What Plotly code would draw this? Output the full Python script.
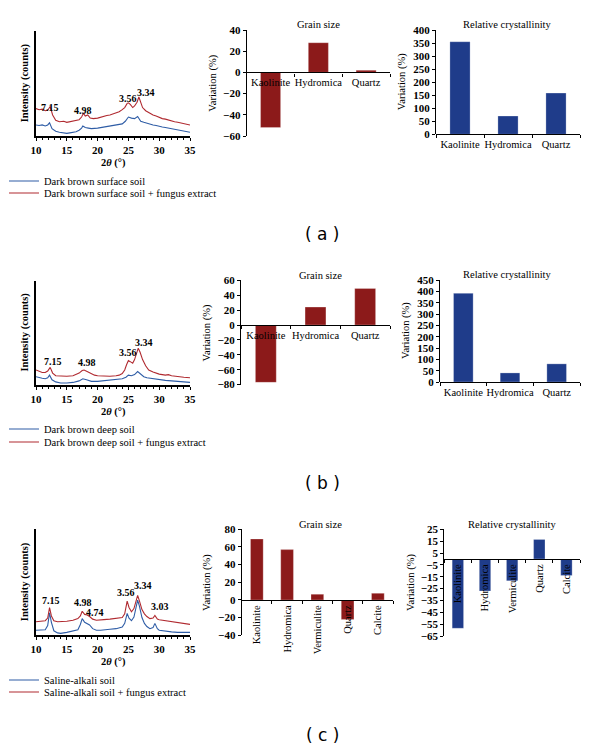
import plotly.graph_objects as go

# ---------------- DATA ----------------
# XRD patterns (2theta in degrees, intensity in arbitrary counts)
xrd_a_x_red = [10, 10.5, 11, 11.5, 11.9, 12.3, 12.7, 13.2, 13.8, 14.5, 15, 15.5, 16, 16.5, 17, 17.4, 17.7, 18.0, 18.4, 18.8,
               19.3, 20, 20.5, 21, 21.5, 22, 22.5, 23, 23.5, 24, 24.4, 24.8, 25.0, 25.3, 25.7, 26.0, 26.4, 26.7, 26.9, 27.3,
               27.8, 28.3, 29, 29.5, 30, 30.5, 31, 31.5, 32, 32.5, 33, 33.5, 34, 34.5, 35]
xrd_a_y_red = [26, 25, 25.5, 24, 24.5, 28, 20, 15, 13.5, 14, 13, 13.5, 14, 14.5, 15.5, 18, 21.5, 19, 20, 17,
               16.5, 17, 18, 18.5, 19.5, 20, 21, 22, 23, 25, 27, 31, 31.5, 30, 27, 28.5, 32, 37, 33, 27,
               24, 22, 20, 19, 17.5, 16.5, 16, 15, 14.5, 13.5, 13, 12.5, 12, 11.5, 10.5]
xrd_a_x_blue = [10, 10.5, 11, 11.5, 11.9, 12.2, 12.6, 13.2, 13.8, 14.5, 15, 15.5, 16, 16.5, 17, 17.4, 17.6, 18.0, 18.5, 19,
                20, 20.5, 21, 21.5, 22, 22.5, 23, 23.5, 24, 24.5, 25.0, 25.5, 26.0, 26.5, 27.0, 27.5, 28, 28.5, 29, 29.5,
                30, 30.5, 31, 31.5, 32, 32.5, 33, 33.5, 34, 34.5, 35]
xrd_a_y_blue = [10.5, 10, 10.5, 9.5, 10.5, 12.5, 7, 4.5, 3.5, 3, 2.5, 3, 3.5, 4, 5.5, 7.5, 9.5, 8, 7.5, 7,
                7.5, 8, 8.5, 8.5, 9, 9.5, 10, 10.5, 11.5, 14, 18, 17, 16.5, 18.5, 14, 13, 12, 11.5, 10.5, 10,
                9, 8.5, 8, 7.5, 7, 6, 5.5, 5, 4.5, 4, 3.5]

xrd_b_x_red = [10, 10.5, 11, 11.5, 11.9, 12.3, 12.7, 13.2, 14, 15, 16, 16.5, 17, 17.5, 17.8, 18.3, 18.8, 19.5, 20, 21,
               22, 23, 23.5, 24, 24.4, 24.7, 25.0, 25.3, 25.7, 26.0, 26.3, 26.6, 26.9, 27.3, 27.8, 28.3, 29, 30, 31, 31.5,
               32, 33, 34, 35]
xrd_b_y_red = [14, 12.5, 11.5, 11.5, 13, 16.5, 11, 8.5, 8, 8, 8.5, 9.5, 11, 13.5, 14, 12.5, 11, 9, 8.5, 8,
               8, 8.5, 9, 10.5, 14, 19, 23, 22, 20.5, 24, 30, 35, 31, 24, 18, 14, 12, 10, 9, 9.5,
               8.5, 7.5, 7, 6.5]
xrd_b_x_blue = [10, 10.5, 11, 11.5, 11.9, 12.2, 12.6, 13.2, 14, 15, 16, 17, 17.6, 18.2, 19, 20, 21, 22, 23, 24,
                24.6, 25, 25.5, 26, 26.5, 27, 27.5, 28, 29, 30, 31, 32, 33, 34, 35]
xrd_b_y_blue = [7.5, 6.5, 6, 5.5, 6.5, 9, 4.5, 2.5, 1.5, 1.5, 2, 3.5, 5.5, 4.5, 3, 3, 3.5, 4, 4.5, 5.5,
                7, 9, 8.5, 9.5, 12.5, 9.5, 7.5, 6.5, 5.5, 4.5, 4, 3.5, 3, 2.5, 2]

xrd_c_x = [10, 10.5, 11, 11.5, 11.9, 12.2, 12.5, 12.9, 13.5, 14, 15, 16, 16.8, 17.2, 17.5, 17.9, 18.3, 18.7, 19.2, 19.8,
           20.5, 21, 22, 23, 23.5, 24, 24.4, 24.8, 25.1, 25.5, 25.9, 26.2, 26.5, 26.8, 27.2, 27.6, 28, 28.5, 29, 29.3,
           29.7, 30, 30.5, 31, 31.5, 32, 33, 34, 35]
xrd_c_y_red = [12.5, 13, 13, 13.5, 16, 26, 18, 13.5, 12.5, 12.5, 13, 14, 15.5, 18, 22.5, 19.5, 19, 17.5, 15, 14,
               14, 14.5, 15, 15.5, 16, 16.5, 20, 32, 26, 22, 25, 31, 37.5, 32, 24, 20, 17.5, 15.5, 16, 18.5,
               15, 14.5, 14, 14, 13.5, 12.5, 11.5, 10.5, 10]
xrd_c_y_blue = [4.5, 4.5, 4.5, 5, 9, 21, 12, 4, 2, 1.5, 2.5, 3.5, 5, 10, 15.5, 12, 11, 9.5, 6, 4.5,
                4.5, 5, 5.5, 6, 6.5, 7.5, 11, 20.5, 16, 13.5, 17, 25, 33, 27, 16.5, 11, 8, 6, 7, 11,
                6, 4.5, 4, 3.5, 3.5, 3, 2.5, 2.5, 2.5]

# Peak labels (d-spacings, Å)
peaks_a_x = [12.3, 17.7, 24.9, 27.8]
peaks_a_y = [27.5, 24, 35.5, 41]
peaks_a_text = ["7.15", "4.98", "3.56", "3.34"]
peaks_b_x = [12.8, 18.3, 25.0, 27.6]
peaks_b_y = [22, 21.5, 31, 40]
peaks_b_text = ["7.15", "4.98", "3.56", "3.34"]
peaks_c_x = [12.5, 17.7, 19.5, 24.6, 27.4, 30.1]
peaks_c_y = [33, 31, 21.5, 40.5, 47, 26.7]
peaks_c_text = ["7.15", "4.98", "4.74", "3.56", "3.34", "3.03"]

# Series names
names_a = ["Dark brown surface soil", "Dark brown surface soil + fungus extract"]
names_b = ["Dark brown deep soil", "Dark brown deep soil + fungus extract"]
names_c = ["Saline-alkali soil", "Saline-alkali soil + fungus extract"]

# Bar charts (variation, %)
cats_ab = ["Kaolinite", "Hydromica", "Quartz"]
cats_c = ["Kaolinite", "Hydromica", "Vermiculite", "Quartz", "Calcite"]
grain_a = [-52, 28, 2]
cryst_a = [355, 70, 158]
grain_b = [-77, 24, 49]
cryst_b = [391, 40, 80]
grain_c = [69, 57, 6.5, -22, 7.5]
cryst_c = [-58.5, -27, -18.5, 16.5, -14]

# ---------------- STYLE ----------------
W, H = 600, 749
SERIF = "Liberation Serif"
RED_LINE = "#B02A30"
BLUE_LINE = "#2F5DA6"
RED_BAR = "#8C1A1A"
BLUE_BAR = "#1F3C8A"


def fx(p):
    return p / W


def fy(p):
    return 1 - p / H


def note(x, y, text, font, angle=0, xref="paper", yref="paper"):
    return dict(x=x, y=y, xref=xref, yref=yref, text=text, showarrow=False, textangle=angle,
                xanchor="center", yanchor="middle", font=font)


fig = go.Figure()
layout = dict(width=W, height=H, margin=dict(l=0, r=0, t=0, b=0, autoexpand=False),
              paper_bgcolor="white", plot_bgcolor="rgba(0,0,0,0)",
              bargap=0.58, showlegend=True, annotations=[])

tickfont = dict(family=SERIF, size=11, color="black", weight="bold")
catfont = dict(family=SERIF, size=10.5, color="black")
boldfont = dict(family=SERIF, size=10.5, color="black", weight="bold")
peakfont = dict(family=SERIF, size=10, color="black", weight="bold")
plainfont = dict(family=SERIF, size=10.5, color="black")

# --- XRD panels ---
xrd_panels = [
    (1, 30.7, 136, xrd_a_x_blue, xrd_a_y_blue, xrd_a_x_red, xrd_a_y_red, peaks_a_x, peaks_a_y, peaks_a_text, names_a, 181, 193, ("legend", "legend2")),
    (4, 280.7, 384.5, xrd_b_x_blue, xrd_b_y_blue, xrd_b_x_red, xrd_b_y_red, peaks_b_x, peaks_b_y, peaks_b_text, names_b, 429, 442, ("legend3", "legend4")),
    (7, 529.3, 635, xrd_c_x, xrd_c_y_blue, xrd_c_x, xrd_c_y_red, peaks_c_x, peaks_c_y, peaks_c_text, names_c, 680, 692, ("legend5", "legend6")),
]
for (n, top, bot, xb, yb, xr, yr, px, py, pt, names, lg1, lg2, legs) in xrd_panels:
    xa = "x" if n == 1 else f"x{n}"
    ya = "y" if n == 1 else f"y{n}"
    fig.add_trace(go.Scatter(x=xb, y=yb, mode="lines", line=dict(color=BLUE_LINE, width=1.1),
                             name=names[0], xaxis=xa, yaxis=ya, legend=legs[0]))
    fig.add_trace(go.Scatter(x=xr, y=yr, mode="lines", line=dict(color=RED_LINE, width=1.1),
                             name=names[1], xaxis=xa, yaxis=ya, legend=legs[1]))
    xk = "xaxis" if n == 1 else f"xaxis{n}"
    yk = "yaxis" if n == 1 else f"yaxis{n}"
    layout[xk] = dict(domain=[fx(36), fx(190)], anchor=ya, range=[10, 35], dtick=5, tick0=10,
                      showline=True, linecolor="black", linewidth=2, ticks="outside", ticklen=3,
                      tickcolor="black", tickfont=tickfont, showgrid=False, zeroline=False,
                      minor=dict(dtick=1, ticks="outside", ticklen=2, tickcolor="black"))
    layout[yk] = dict(domain=[fy(bot), fy(top)], anchor=xa, range=[0, 100], showline=True,
                      linecolor="black", linewidth=2, showticklabels=False, ticks="",
                      showgrid=False, zeroline=False)
    for xx, yy, tt in zip(px, py, pt):
        layout["annotations"].append(note(xx, yy, tt, peakfont, xref=xa, yref=ya))
    layout["annotations"].append(note(fx(25), fy((top + bot) / 2), "Intensity (counts)", boldfont, angle=-90))
    layout["annotations"].append(note(fx(113), fy(bot + 27), "2<i>θ</i> (°)", boldfont))
    for lg, ypix in zip(legs, (lg1, lg2)):
        layout[lg] = dict(x=fx(4), y=fy(ypix), xanchor="left", yanchor="middle",
                          bgcolor="rgba(0,0,0,0)", borderwidth=0, font=plainfont)

# --- Bar panels ---
bar_panels = [
    # n, cats, vals, color, x0, x1, top, bot, rmin, rmax, dtick, tick0, title, tickangle, title_x
    (2, cats_ab, grain_a, RED_BAR, 246.7, 390, 30, 136, -60, 40, 20, 0, "Grain size", 0, 318),
    (3, cats_ab, cryst_a, BLUE_BAR, 436, 580, 30, 134.3, 0, 400, 50, 0, "Relative crystallinity", 0, 507),
    (5, cats_ab, grain_b, RED_BAR, 241, 390, 280.3, 384.6, -80, 60, 20, 0, "Grain size", 0, 320),
    (6, cats_ab, cryst_b, BLUE_BAR, 440, 580, 280, 382, 0, 450, 50, 0, "Relative crystallinity", 0, 507),
    (8, cats_c, grain_c, RED_BAR, 241.7, 393, 529.3, 635.3, -40, 80, 20, 0, "Grain size", -90, 320),
    (9, cats_c, cryst_c, BLUE_BAR, 444.3, 580, 529.3, 636, -65, 25, 10, 5, "Relative crystallinity", -90, 512),
]
for (n, cats, vals, col, x0, x1, top, bot, rmin, rmax, dt, t0, title, ang, tx) in bar_panels:
    xa, ya = f"x{n}", f"y{n}"
    fig.add_trace(go.Bar(x=cats, y=vals, marker=dict(color=col, line=dict(color="rgba(255,255,255,0.5)", width=0.5)),
                         xaxis=xa, yaxis=ya, showlegend=False))
    y0, y1 = fy(bot), fy(top)
    zero_pos = y0 + (0 - rmin) / (rmax - rmin) * (y1 - y0)
    layout[f"xaxis{n}"] = dict(domain=[fx(x0), fx(x1)], anchor="free", position=zero_pos,
                               type="category", showline=True, linecolor="black", linewidth=1.2,
                               ticks="outside", tickson="boundaries", ticklen=3, tickcolor="black",
                               tickangle=ang, tickfont=catfont, showgrid=False, zeroline=False)
    layout[f"yaxis{n}"] = dict(domain=[y0, y1], anchor=xa, range=[rmin, rmax], dtick=dt, tick0=t0,
                               showline=True, linecolor="black", linewidth=1.2, ticks="outside",
                               ticklen=3, tickcolor="black", tickfont=tickfont, showgrid=False,
                               zeroline=False)
    layout["annotations"].append(note(fx(tx), fy(top - 5), title, plainfont))
    layout["annotations"].append(note(fx(x0 - 34), fy((top + bot) / 2), "Variation (%)", plainfont, angle=-90))

# --- Panel letters ---
for txt, ypix in (("( a )", 234), ("( b )", 483), ("( c )", 735)):
    layout["annotations"].append(note(fx(322), fy(ypix), txt,
                                      dict(family="DejaVu Sans", size=17, color="black")))

fig.update_layout(**layout)
fig.write_html("out.html", config={"displayModeBar": False},
               post_script="document.body.style.margin='0';document.body.style.overflow='hidden';")
